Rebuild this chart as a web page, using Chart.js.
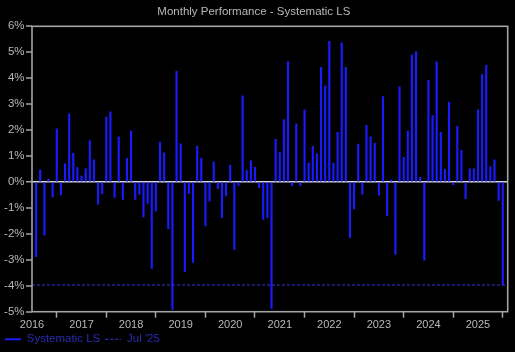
<!DOCTYPE html>
<html>
<head>
<meta charset="utf-8">
<style>
  html, body { margin: 0; padding: 0; background: #000; }
  canvas { display: block; }
</style>
<script src="https://cdn.jsdelivr.net/npm/chart.js@4/dist/chart.umd.min.js"></script>
</head>
<body>
<canvas id="c" width="515" height="352"></canvas>
<script>
// ---- data ----
const months = [
  "2016-02","2016-03","2016-04","2016-05","2016-06","2016-07","2016-08","2016-09","2016-10","2016-11","2016-12","2017-01",
  "2017-02","2017-03","2017-04","2017-05","2017-06","2017-07","2017-08","2017-09","2017-10","2017-11","2017-12","2018-01",
  "2018-02","2018-03","2018-04","2018-05","2018-06","2018-07","2018-08","2018-09","2018-10","2018-11","2018-12","2019-01",
  "2019-02","2019-03","2019-04","2019-05","2019-06","2019-07","2019-08","2019-09","2019-10","2019-11","2019-12","2020-01",
  "2020-02","2020-03","2020-04","2020-05","2020-06","2020-07","2020-08","2020-09","2020-10","2020-11","2020-12","2021-01",
  "2021-02","2021-03","2021-04","2021-05","2021-06","2021-07","2021-08","2021-09","2021-10","2021-11","2021-12","2022-01",
  "2022-02","2022-03","2022-04","2022-05","2022-06","2022-07","2022-08","2022-09","2022-10","2022-11","2022-12","2023-01",
  "2023-02","2023-03","2023-04","2023-05","2023-06","2023-07","2023-08","2023-09","2023-10","2023-11","2023-12","2024-01",
  "2024-02","2024-03","2024-04","2024-05","2024-06","2024-07","2024-08","2024-09","2024-10","2024-11","2024-12","2025-01",
  "2025-02","2025-03","2025-04","2025-05","2025-06","2025-07"
];
const returnsPct = [
  -2.88, 0.47, -2.05, 0.10, -0.58, 2.05, -0.50, 0.70, 2.63, 1.10, 0.55, 0.23,
  0.51, 1.60, 0.85, -0.86, -0.45, 2.50, 2.70, -0.60, 1.74, -0.67, 0.91, 1.97,
  -0.67, -0.47, -1.35, -0.83, -3.33, -1.12, 1.54, 1.12, -1.80, -4.91, 4.26, 1.47,
  -3.46, -0.45, -3.10, 1.37, 0.92, -1.69, -0.74, 0.78, -0.26, -1.38, -0.54, 0.64,
  -2.60, -0.13, 3.32, 0.45, 0.82, 0.56, -0.22, -1.44, -1.38, -4.87, 1.64, 1.15,
  2.40, 4.64, -0.15, 2.24, -0.15, 2.78, 0.74, 1.37, 1.08, 4.42, 3.70, 5.42,
  0.73, 1.91, 5.36, 4.42, -2.15, -1.04, 1.46, -0.47, 2.18, 1.74, 1.49, -0.51,
  3.29, -1.31, 0.08, -2.79, 3.67, 0.95, 1.95, 4.90, 5.03, 0.18, -3.01, 3.92,
  2.56, 4.63, 1.91, 0.49, 3.08, -0.10, 2.14, 1.22, -0.64, 0.51, 0.51, 2.78,
  4.14, 4.50, 0.58, 0.85, -0.71, -3.97
];
const yearTicks = [2016, 2017, 2018, 2019, 2020, 2021, 2022, 2023, 2024, 2025];
const pctTicks = [-5, -4, -3, -2, -1, 0, 1, 2, 3, 4, 5, 6];
const seriesName = "Systematic LS";
const chartTitle = "Monthly Performance - Systematic LS";
const xMin = 2016, xMax = 2025.6;

// ---- derived ----
const monthNames = ["Jan","Feb","Mar","Apr","May","Jun","Jul","Aug","Sep","Oct","Nov","Dec"];
function toYearFrac(s) { const [y, m] = s.split("-").map(Number); return y + (m - 1) / 12; }
const barPoints = months.map((m, i) => ({ x: toYearFrac(m), y: returnsPct[i] }));
const lastVal = returnsPct[returnsPct.length - 1];
const lastMonth = months[months.length - 1];
const lastLabel = monthNames[Number(lastMonth.split("-")[1]) - 1] + " '" + lastMonth.slice(2, 4);

const FONT = "'Liberation Sans', Arial, sans-serif";
Chart.defaults.font.family = FONT;

const BAR_BLUE = "#1a1aff";
const DASH_BLUE = "#3434e6";
const AXIS_GREY = "#a4a4a4";
const TEXT_GREY = "#b8b8b8";

const framePlugin = {
  id: "frame",
  afterDatasetsDraw(chart) {
    const a = chart.chartArea, ctx = chart.ctx;
    ctx.save();
    ctx.strokeStyle = AXIS_GREY;
    ctx.lineWidth = 1.6;
    ctx.strokeRect(a.left, a.top, a.right - a.left, a.bottom - a.top);
    ctx.restore();
  }
};

new Chart(document.getElementById("c"), {
  type: "bar",
  data: {
    datasets: [
      {
        type: "bar",
        label: seriesName,
        data: barPoints,
        backgroundColor: BAR_BLUE,
        borderWidth: 0,
        barThickness: 1.5,
        order: 2
      },
      {
        type: "line",
        label: lastLabel,
        data: [{ x: xMin, y: lastVal }, { x: xMax, y: lastVal }],
        borderColor: DASH_BLUE,
        borderWidth: 1.2,
        borderDash: [3, 2],
        pointRadius: 0,
        fill: false,
        order: 1
      }
    ]
  },
  plugins: [framePlugin],
  options: {
    responsive: false,
    animation: false,
    layout: { padding: { left: 0, right: 7.3, top: 0, bottom: -3 } },
    plugins: {
      tooltip: { enabled: false },
      title: {
        display: true,
        text: chartTitle,
        color: TEXT_GREY,
        font: { family: FONT, size: 11.5, weight: "normal" },
        padding: { top: 5, bottom: 7.5 }
      },
      legend: {
        display: true,
        position: "bottom",
        align: "start",
        labels: {
          usePointStyle: true,
          pointStyleWidth: 16,
          padding: 5,
          font: { family: FONT, size: 11.5 },
          color: "#2b2bb5",
          generateLabels() {
            return [
              { text: seriesName, strokeStyle: BAR_BLUE, fillStyle: BAR_BLUE, lineWidth: 2,
                pointStyle: "line", fontColor: "#2b2bb5", datasetIndex: 0, hidden: false },
              { text: lastLabel, strokeStyle: DASH_BLUE, fillStyle: DASH_BLUE, lineWidth: 1.2,
                lineDash: [3, 2], pointStyle: "line", fontColor: "#2b2bb5", datasetIndex: 1, hidden: false }
            ];
          }
        }
      }
    },
    scales: {
      x: {
        type: "linear",
        min: xMin,
        max: xMax,
        offset: false,
        afterBuildTicks(scale) { scale.ticks = yearTicks.map(v => ({ value: v })); },
        afterFit(scale) {
          const c = scale.chart;
          const lh = c.legend ? c.legend.height : 0;
          scale.height = c.height + 3 - lh - 311.7;
        },
        ticks: {
          color: TEXT_GREY,
          font: { family: FONT, size: 11 },
          padding: 1,
          maxRotation: 0,
          autoSkip: false,
          callback: v => String(v)
        },
        grid: { display: true, drawOnChartArea: false, drawTicks: true, tickLength: 6, tickColor: AXIS_GREY, tickWidth: 1.5 },
        border: { display: false }
      },
      y: {
        type: "linear",
        min: -5,
        max: 6,
        z: 1,
        afterBuildTicks(scale) { scale.ticks = pctTicks.map(v => ({ value: v })); },
        afterFit(scale) { scale.width = 32; },
        ticks: {
          color: TEXT_GREY,
          font: { family: FONT, size: 11.5 },
          padding: 1.5,
          callback: v => v + "%"
        },
        grid: {
          display: true,
          drawTicks: true,
          tickLength: 6,
          tickColor: AXIS_GREY,
          tickWidth: 1.5,
          color: ctx => (ctx.tick && ctx.tick.value === 0 ? "#d6d6d6" : "rgba(0,0,0,0)"),
          lineWidth: ctx => (ctx.tick && ctx.tick.value === 0 ? 1.5 : 0)
        },
        border: { display: false }
      }
    }
  }
});
</script>
</body>
</html>
